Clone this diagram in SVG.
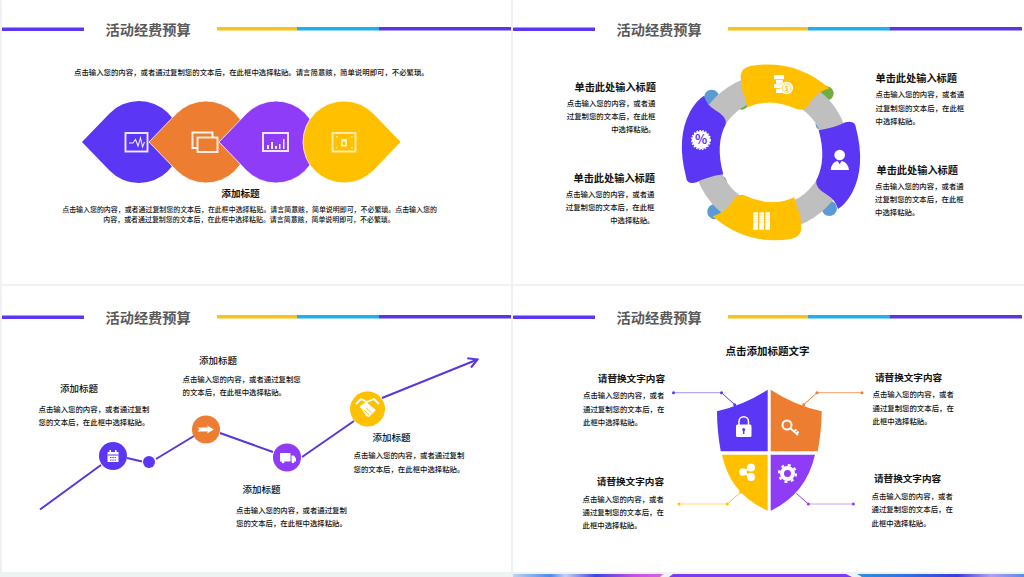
<svg xmlns="http://www.w3.org/2000/svg" width="1024" height="577" viewBox="0 0 1024 577">
<style>
text{font-family:"Noto Sans CJK SC","Noto Sans",sans-serif;fill:#111}
.h{font-size:14.2px;font-weight:700;fill:#595959}
.p{font-size:7.4px;font-weight:500}
.p7{font-size:6.95px;font-weight:500;text-anchor:middle}
.t{font-size:9.6px;font-weight:700}
.t2{font-size:10.2px;font-weight:700}
.t3{font-size:9.5px;font-weight:500}
.e{text-anchor:end}
.m{text-anchor:middle}
.ic{fill:none;stroke:#fff;stroke-width:1.9;opacity:.9}
.w{fill:#fff}
.fg{fill:#ffc000}.fp{fill:#5b36f5}.fo{fill:#ed7d31}.fv{fill:#8e3cf7}
.bump{fill:#5b9bd5}.grn{fill:#70ad47}
</style>
<defs>
<path id="tear" d="M-57 0L-29.500-28.500A41 41 0 1 1-29.500 28.500Z"/>
<g id="head">
<rect x="0" y="27.500" width="82" height="3.500" fill="#5b36f5"/>
<text class="h" x="103.500" y="34.500">活动经费预算</text>
<rect x="215" y="27" width="80" height="3.500" fill="#fbc21a"/>
<rect x="295" y="27" width="82" height="3.500" fill="#1fb0e6"/>
<rect x="377" y="27" width="132" height="3.500" fill="#5b36e0"/>
</g>
<linearGradient id="g1" x1="0" x2="1" y1="0" y2="0"><stop offset="0" stop-color="#bcd4f5"/><stop offset=".25" stop-color="#4a8ae8"/><stop offset=".35" stop-color="#c8d0f5"/><stop offset=".55" stop-color="#3a45e0"/><stop offset=".8" stop-color="#c050e8"/><stop offset="1" stop-color="#d860e0"/></linearGradient>
<linearGradient id="g3" x1="0" x2="1" y1="0" y2="0"><stop offset="0" stop-color="#2f90e0"/><stop offset=".3" stop-color="#3070e6"/><stop offset=".6" stop-color="#3a3ce0"/><stop offset=".8" stop-color="#b0a0f0"/><stop offset="1" stop-color="#5a8ce8"/></linearGradient>
<marker id="arr" markerUnits="userSpaceOnUse" markerWidth="14" markerHeight="14" refX="10" refY="6" orient="auto"><path d="M1 1L10 6L1 11" fill="none" stroke="#5b36dc" stroke-width="2"/></marker>
</defs>
<rect width="1024" height="577" fill="#eef2f3"/>
<rect x="2" y="0" width="509" height="284" fill="#fff"/>
<rect x="513" y="0" width="511" height="284" fill="#fff"/>
<rect x="2" y="286" width="509" height="286" fill="#fff"/>
<rect x="513" y="286" width="511" height="286" fill="#fff"/>
<path d="M513 574H663L660 577H513Z" fill="url(#g1)"/>
<path d="M673 574H846L852 577H669Z" fill="#7a3cf0"/>
<path d="M857 574H1024V577H862Z" fill="url(#g3)"/>
<use href="#head" x="2" y="0"/>
<use href="#head" x="513" y="0"/>
<use href="#head" x="2" y="288"/>
<use href="#head" x="513" y="288"/>

<text class="p" x="74" y="74.500">点击输入您的内容，或者通过复制您的文本后，在此框中选择粘贴。请言简意赅，简单说明即可，不必繁琐。</text>
<g id="n1-1"><use href="#tear" x="139" y="142" class="fp"/><g class="ic"><rect x="125.500" y="133" width="22" height="18.500"/><path d="M129 143L133 143L135.500 139.500L138 146L140.500 138L142.500 147L144.500 142" stroke-width="1.100"/></g></g>
<g id="n1-2"><use href="#tear" x="206" y="142" class="fo" stroke="#fff" stroke-width=".8"/><g class="ic"><path d="M197 148H192.500V132.500H212.500V137"/><rect x="197.500" y="137.500" width="20" height="14.500"/></g></g>
<g id="n1-3"><use href="#tear" x="276" y="142" class="fv" stroke="#fff" stroke-width=".8"/><g class="ic"><rect x="263" y="133" width="25" height="18"/></g><path class="w" opacity=".9" d="M267 145h2v4h-2zM271 142h2v7h-2zM275 146h2v3h-2zM279 144h1.500v5h-1.500zM283 139h1.500v10h-1.500z"/></g>
<g id="n1-4"><use href="#tear" transform="translate(344 142) scale(-1 1)" class="fg" stroke="#fff" stroke-width=".8"/><g class="ic" style="opacity:.7"><rect x="332.500" y="133" width="23" height="18.500"/></g><rect x="341" y="139" width="6" height="7.500" fill="#fff" opacity=".75"/><rect x="342.800" y="142" width="2.400" height="3" fill="#ffc000"/><path class="w" opacity=".7" d="M336 136h1.500v1.500H336zM351 136h1.500v1.500H351zM336 147h1.500v1.500H336zM351 147h1.500v1.500H351z"/></g>
<text class="t m" x="240.500" y="197">添加标题</text>
<text class="p7" x="249.500" y="211.500">点击输入您的内容，或者通过复制您的文本后，在此框中选择粘贴。请言简意赅，简单说明即可，不必繁琐。点击输入您的</text>
<text class="p7" x="249" y="222.300">内容，或者通过复制您的文本后，在此框中选择粘贴。请言简意赅，简单说明即可，不必繁琐。</text>

<g id="ring" transform="translate(670 55) scale(.33333)">
<g><circle class="bump" cx="125" cy="127" r="23"/><circle class="bump" cx="152" cy="380" r="18"/><circle class="bump" cx="135" cy="470" r="23"/><circle class="bump" cx="390" cy="448" r="19"/><circle class="bump" cx="455" cy="208" r="18"/><circle class="bump" cx="478" cy="460" r="23"/><circle class="grn" cx="215" cy="143" r="21"/><circle class="grn" cx="470" cy="115" r="21"/></g>
<circle cx="303" cy="292" r="197" fill="none" stroke="#bfbfbf" stroke-width="75"/>
<path id="seg1" class="fg" d="M212 62Q214 40 240 33Q375 10 478 100Q440 112 422 140Q405 172 380 162Q300 125 233 157Q225 125 215 100Z"/>
<path id="seg2" class="fg" transform="rotate(180 303 292)" d="M212 62Q214 40 240 33Q375 10 478 100Q440 112 422 140Q405 172 380 162Q300 125 233 157Q225 125 215 100Z"/>
<path id="seg3" class="fp" d="M102 122Q110 150 135 165Q172 185 167 208Q135 270 160 358Q112 365 80 382Q50 390 48 365Q18 250 60 170Q80 135 102 122Z"/>
<path id="seg4" class="fp" transform="rotate(180 303 292)" d="M102 122Q110 150 135 165Q172 185 167 208Q135 270 160 358Q112 365 80 382Q50 390 48 365Q18 250 60 170Q80 135 102 122Z"/>
<g class="w">
<circle cx="93" cy="255" r="27"/>
<circle cx="93" cy="255" r="28" fill="none" stroke="#fff" stroke-width="4" stroke-dasharray="5 4"/>
<path d="M312 60h30v13h-30zM318 75h20v11h-20zM312 88h22v11h-22zM318 101h18v13h-18z"/>
<circle cx="350" cy="99" r="19"/>
<circle cx="509" cy="300" r="16"/>
<path d="M482 345Q484 322 503 318L509 328L515 318Q534 322 537 345Z"/>
<path d="M250 472h14v52h-14zM268 472h14v52h-14zM286 472h14v52h-14z"/>
</g>
<circle cx="350" cy="99" r="13" fill="none" stroke="#ffc000" stroke-width="2"/>
<path d="M250 480h50M250 487h50M250 494h50M250 501h50" stroke="#ffc000" stroke-width="1.500" opacity=".7"/>
<text x="93" y="268" font-size="38" font-weight="700" text-anchor="middle" style="fill:#5b36f5">%</text>
<text x="350" y="107" font-size="20" font-weight="700" text-anchor="middle" style="fill:#ffc000">$</text>
</g>
<text class="t2 e" x="656" y="91">单击此处输入标题</text>
<text class="p e" x="655.500" y="105.500">点击输入您的内容，或者通</text>
<text class="p e" x="655.500" y="119">过复制您的文本后，在此框</text>
<text class="p e" x="655.500" y="132">中选择粘贴。</text>
<text class="t2 e" x="655" y="182">单击此处输入标题</text>
<text class="p e" x="654.500" y="196.500">点击输入您的内容，或者通</text>
<text class="p e" x="654.500" y="210">过复制您的文本后，在此框</text>
<text class="p e" x="654.500" y="223">中选择粘贴。</text>
<text class="t2" x="875.500" y="82">单击此处输入标题</text>
<text class="p" x="875.500" y="97">点击输入您的内容，或者通</text>
<text class="p" x="875.500" y="110.500">过复制您的文本后，在此框</text>
<text class="p" x="875.500" y="123.500">中选择粘贴。</text>
<text class="t2" x="876.500" y="173.500">单击此处输入标题</text>
<text class="p" x="875" y="188.500">点击输入您的内容，或者通</text>
<text class="p" x="875" y="202">过复制您的文本后，在此框</text>
<text class="p" x="875" y="215">中选择粘贴。</text>

<g id="connectors3" fill="none" stroke="#5b36dc" stroke-width="2">
<path d="M40 509.500L101 465"/>
<path d="M127 458L142 461.500"/>
<path d="M156 459L194 436"/>
<path d="M220 433L273 452"/>
<path d="M302 457L354 421"/>
<path d="M382 398L477.500 359.500" marker-end="url(#arr)"/>
</g>
<g id="n3-1"><circle class="fp" cx="113" cy="456" r="14"/><path class="w" d="M107.500 452h11v10h-11z"/><path d="M107.500 455h11" stroke="#5b36f5"/><path d="M110 457.500h6M110 460h6" stroke="#5b36f5" stroke-dasharray="1.500 .8"/><path class="w" d="M109.500 450h1.500v3h-1.500zM115 450h1.500v3H115z"/></g>
<g id="n3-d"><circle class="fp" cx="149" cy="462" r="6"/></g>
<g id="n3-2"><circle class="fo" cx="206" cy="429.500" r="14"/><path class="w" d="M197.500 427.500H208L207 425.500L214 429.500L207 433.500L208 431.500H197.500L199.500 429.500Z"/></g>
<g id="n3-3"><circle class="fv" cx="287" cy="457.500" r="14"/><rect class="w" x="280" y="453" width="10.500" height="8.500" rx=".5"/><path class="w" d="M291.500 455.500h2.500l2 3v3h-4.500z"/><circle class="w" cx="283" cy="462" r="1.300"/><circle class="w" cx="293" cy="462" r="1.300"/></g>
<g id="n3-4"><circle class="fg" cx="367.500" cy="409" r="17.500"/><path d="M356 404L361 399L367 402M379 404L374 399L367 402L361 407L369 415" fill="none" stroke="#fff" stroke-width="1.800"/><path class="w" d="M360 406L366 402L376 410L369 417L366 416Z"/><path d="M366 408L372 413M364 410L369 415" stroke="#ffc000" fill="none" stroke-width=".8"/></g>
<text class="t3" x="60" y="391.500">添加标题</text>
<text class="p" x="38.500" y="411.500">点击输入您的内容，或者通过复制</text>
<text class="p" x="38.500" y="425">您的文本后，在此框中选择粘贴。</text>
<text class="t3" x="199" y="364">添加标题</text>
<text class="p" x="182.500" y="381.500">点击输入您的内容，或者通过复制您</text>
<text class="p" x="182.500" y="395">的文本后，在此框中选择粘贴。</text>
<text class="t3" x="242.500" y="492.500">添加标题</text>
<text class="p" x="236" y="512.500">点击输入您的内容，或者通过复制</text>
<text class="p" x="236" y="526">您的文本后，在此框中选择粘贴。</text>
<text class="t3" x="372.500" y="440.500">添加标题</text>
<text class="p" x="353.500" y="458">点击输入您的内容，或者通过复制</text>
<text class="p" x="353.500" y="472">您的文本后，在此框中选择粘贴。</text>

<text class="t2 m" x="767.500" y="355" style="font-size:10.500px">点击添加标题文字</text>

<g id="connectors4" fill="none" stroke-width="1">
<path d="M673.500 392.700H721.500" stroke="#b9a8f8" stroke-width="1.200"/><path d="M721.500 392.700L734.700 404.700" stroke="#5b36f5"/>
<path d="M862 392.700H817" stroke="#f4b183" stroke-width="1.200"/><path d="M817 392.700L803.700 404.700" stroke="#ed7d31"/>
<path d="M679 504H727.300" stroke="#ffd966" stroke-width="1.200"/><path d="M727.300 504L740.700 492" stroke="#f3c13a"/>
<path d="M853.300 504H808.300" stroke="#c8a0f8" stroke-width="1.200"/><path d="M808.300 504L796.300 493.300" stroke="#8e3cf7"/>
</g>
<g id="dots4">
<circle class="fp" cx="673.500" cy="392.700" r="1.500"/><circle class="fp" cx="721.500" cy="392.700" r="1.500"/><circle class="fp" cx="734.700" cy="404.700" r="1.500"/>
<circle class="fo" cx="862" cy="392.700" r="1.500"/><circle class="fo" cx="817" cy="392.700" r="1.500"/><circle class="fo" cx="803.700" cy="404.700" r="1.500"/>
<circle class="fg" cx="679" cy="504" r="1.500"/><circle class="fg" cx="727.300" cy="504" r="1.500"/><circle class="fg" cx="740.700" cy="492" r="1.500"/>
<circle class="fv" cx="853.300" cy="504" r="1.500"/><circle class="fv" cx="808.300" cy="504" r="1.500"/>
</g>
<g id="s1"><path class="fp" d="M767.700 389.700V451.300H720.700Q717 430 717 411.300Q745 405 767.700 389.700Z"/><rect class="w" x="736" y="424.500" width="15.500" height="12.500" rx="1.500"/><path d="M739 425V421.500A4.700 4.700 0 0 1 748.500 421.500V425" fill="none" stroke="#fff" stroke-width="1.500"/><circle class="fp" cx="743.700" cy="429.500" r="1.500"/><rect class="fp" x="743" y="430" width="1.400" height="4"/></g>
<g id="s2"><path class="fo" d="M770.700 389.700V451.300H817.700Q821.700 430 821.700 411.300Q794 405 770.700 389.700Z"/><circle cx="787" cy="425" r="4.500" fill="none" stroke="#fff" stroke-width="2"/><path d="M790.500 428.500L798 435M794 431.500L796.500 429.500M796.500 433.500L798.500 431.500" fill="none" stroke="#fff" stroke-width="2"/></g>
<g id="s3"><path class="fg" d="M767.700 454.700V510.700Q730 494 722 454.700Z"/><path d="M751 467.500L743 472L751 477" fill="none" stroke="#fff" stroke-width="2"/><circle class="w" cx="751" cy="467.500" r="4"/><circle class="w" cx="743" cy="472" r="3.800"/><circle class="w" cx="751" cy="477" r="4"/></g>
<g id="s4"><path class="fv" d="M770.700 454.700V510.700Q806 494 815 454.700Z"/><circle cx="787.500" cy="473.500" r="5.500" fill="none" stroke="#fff" stroke-width="4"/><circle cx="787.500" cy="473.500" r="8.500" fill="none" stroke="#fff" stroke-width="2.200" stroke-dasharray="3 3.670"/></g>
<text class="t e" x="665" y="381.500">请替换文字内容</text>
<text class="p" x="583" y="398">点击输入您的内容，或者</text>
<text class="p" x="583" y="411.500">通过复制您的文本后，在</text>
<text class="p" x="583" y="424.800">此框中选择粘贴。</text>
<text class="t" x="875" y="381">请替换文字内容</text>
<text class="p" x="872.500" y="397.300">点击输入您的内容，或者</text>
<text class="p" x="872.500" y="411">通过复制您的文本后，在</text>
<text class="p" x="872.500" y="424">此框中选择粘贴。</text>
<text class="t e" x="664" y="484.500">请替换文字内容</text>
<text class="p" x="582.500" y="501.500">点击输入您的内容，或者</text>
<text class="p" x="582.500" y="515">通过复制您的文本后，在</text>
<text class="p" x="582.500" y="528.300">此框中选择粘贴。</text>
<text class="t" x="874" y="482">请替换文字内容</text>
<text class="p" x="871.500" y="498.700">点击输入您的内容，或者</text>
<text class="p" x="871.500" y="512.300">通过复制您的文本后，在</text>
<text class="p" x="871.500" y="525.500">此框中选择粘贴。</text>
</svg>
